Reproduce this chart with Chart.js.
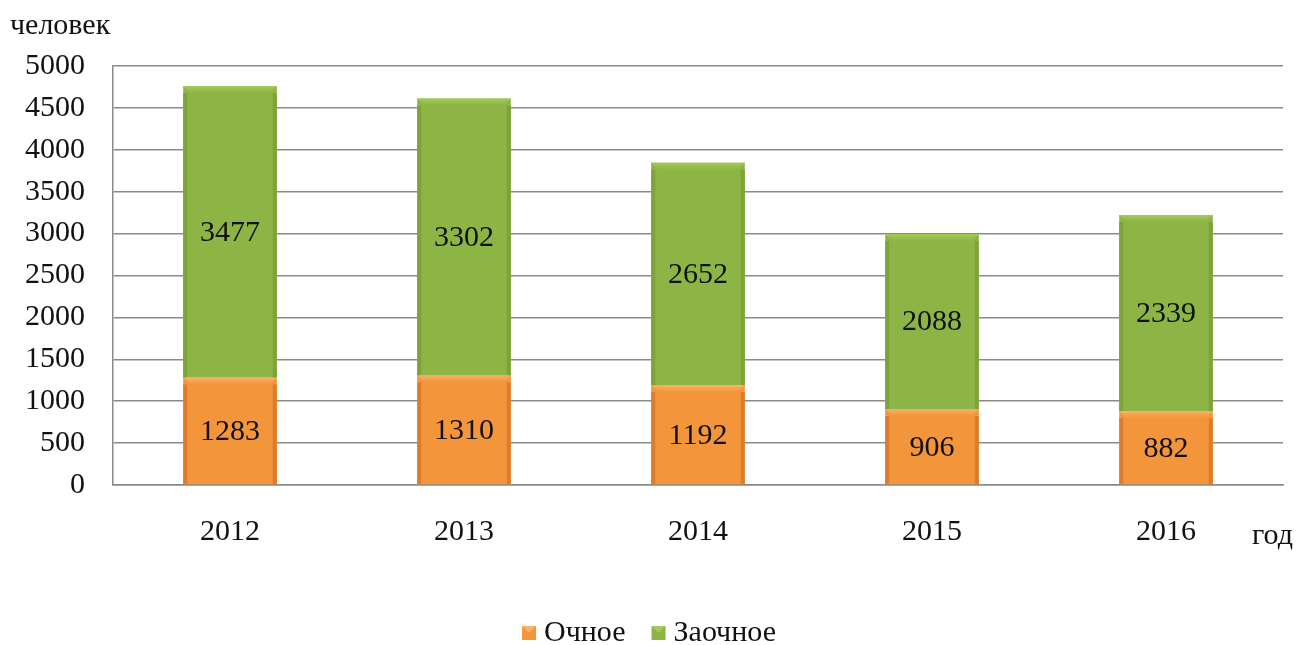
<!DOCTYPE html>
<html><head><meta charset="utf-8">
<script src="https://cdn.jsdelivr.net/npm/chart.js@4"></script>
<style>html,body{margin:0;padding:0;background:#fff}#wrap{width:1298px;height:645px}</style>
</head><body><div id="wrap"><canvas id="c" width="1298" height="645"></canvas></div>
<script>
const years = ['2012','2013','2014','2015','2016'];
const fullTime = [1283, 1310, 1192, 906, 882];
const partTime = [3477, 3302, 2652, 2088, 2339];
const seriesNames = ['Очное', 'Заочное'];
const yTicks = [0,500,1000,1500,2000,2500,3000,3500,4000,4500,5000];
const yUnit = 'человек';
const xUnit = 'год';

const FONT = '"Liberation Serif","Times New Roman",serif';
const FS = 30;
const colors = ['#F3953A', '#8DB545'];
const edgeDark = ['#DD7D2C', '#7DA33A'];
const topLight = ['#F8B266', '#A3CA5B'];

const deco = {
  id: 'deco',
  afterDatasetsDraw(chart) {
    const ctx = chart.ctx;
    chart.data.datasets.forEach((ds, di) => {
      chart.getDatasetMeta(di).data.forEach((bar, i) => {
        const w = bar.width, x0 = bar.x - w/2, top = Math.min(bar.y, bar.base), h = Math.abs(bar.base - bar.y);
        const b = 7;
        ctx.save();
        const g = ctx.createLinearGradient(0, top, 0, top + b);
        g.addColorStop(0, topLight[di]); g.addColorStop(1, colors[di]);
        ctx.fillStyle = g;
        ctx.beginPath();
        ctx.moveTo(x0, top); ctx.lineTo(x0 + w, top); ctx.lineTo(x0 + w - b, top + b); ctx.lineTo(x0 + b, top + b); ctx.closePath(); ctx.fill();
        ctx.fillStyle = edgeDark[di];
        ctx.fillRect(x0, top + b, 4, h - b);
        ctx.fillRect(x0 + w - 4, top + b, 4, h - b);
        ctx.fillStyle = '#111';
        ctx.font = FS + 'px ' + FONT;
        ctx.textAlign = 'center'; ctx.textBaseline = 'middle';
        ctx.fillText(String(ds.data[i]), bar.x, (bar.y + bar.base) / 2 + 1);
        ctx.restore();
      });
    });
  },
  afterDraw(chart) {
    const ctx = chart.ctx;
    ctx.save();
    ctx.fillStyle = '#111';
    ctx.font = FS + 'px ' + FONT;
    ctx.textBaseline = 'middle';
    ctx.textAlign = 'left';
    ctx.fillText(yUnit, 10, 26);
    ctx.fillText(xUnit, 1252, 536);
    const box = 14, gap = 8, itemGap = 26;
    const widths = seriesNames.map(n => ctx.measureText(n).width);
    const total = widths.reduce((a, w) => a + box + gap + w, 0) + itemGap;
    let x = (chart.width - total) / 2;
    const y = 633;
    seriesNames.forEach((n, i) => {
      ctx.fillStyle = colors[i];
      ctx.fillRect(x, y - box/2, box, box);
      ctx.fillStyle = topLight[i];
      ctx.beginPath(); ctx.moveTo(x, y - box/2); ctx.lineTo(x + box, y - box/2); ctx.lineTo(x + box/2, y); ctx.closePath(); ctx.fill();
      ctx.fillStyle = '#111';
      ctx.fillText(n, x + box + gap, y);
      x += box + gap + widths[i] + itemGap;
    });
    ctx.restore();
  }
};

new Chart(document.getElementById('c'), {
  type: 'bar',
  data: {
    labels: years,
    datasets: [
      { label: seriesNames[0], data: fullTime, backgroundColor: colors[0] },
      { label: seriesNames[1], data: partTime, backgroundColor: colors[1] }
    ]
  },
  options: {
    responsive: false,
    animation: false,
    events: [],
    layout: { padding: { top: 66, right: 15, left: 0, bottom: 0 } },
    datasets: { bar: { categoryPercentage: 1, barPercentage: 0.4 } },
    plugins: { legend: { display: false }, tooltip: { enabled: false } },
    scales: {
      x: {
        stacked: true,
        grid: { display: false, drawTicks: false },
        border: { display: true, color: '#8a8a8a', width: 1.5 },
        ticks: { color: '#111', font: { family: FONT, size: FS }, padding: 29 },
        afterFit(s) { s.height = 160; }
      },
      y: {
        stacked: true,
        min: 0, max: 5000,
        afterBuildTicks(s) { s.ticks = yTicks.map(v => ({ value: v })); },
        grid: { color: '#8a8a8a', lineWidth: 1.5, drawTicks: false },
        border: { display: true, color: '#8a8a8a', width: 1.5 },
        ticks: { color: '#111', font: { family: FONT, size: FS }, padding: 28, callback: v => String(v) },
        afterFit(s) { s.width = 113; }
      }
    }
  },
  plugins: [deco]
});
</script>
</body></html>
